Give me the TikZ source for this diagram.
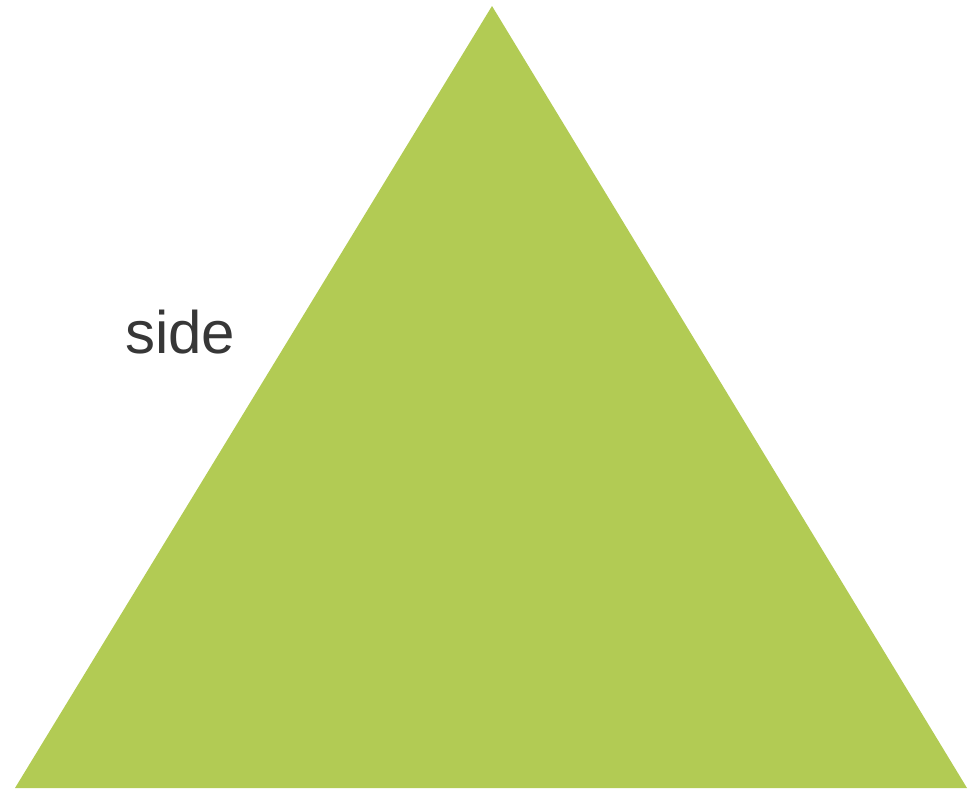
\documentclass[tikz,border=0pt]{standalone}
\usepackage{fontspec}
\setmainfont{Liberation Sans}
\usepackage{tikz}
\usetikzlibrary{positioning}

\definecolor{leafgreen}{RGB}{178,203,84}
\definecolor{labelgray}{RGB}{55,55,55}

\begin{document}
\begin{tikzpicture}[x=0.75pt, y=-0.75pt,
  face/.style={fill=leafgreen, draw=none},
  sidelabel/.style={font=\fontsize{45}{54}\selectfont, text=labelgray, anchor=base west, inner sep=0pt}]
  \useasboundingbox (0,0) rectangle (969,790);

  % Corners of the triangle
  \coordinate (apex) at (492,6);
  \coordinate (left) at (15,788);
  \coordinate (right) at (967,788);

  % Triangle face
  \fill[face] (apex) -- (right) -- (left) -- cycle;

  % Label
  \node[sidelabel] (side) at (125,353) {side};
\end{tikzpicture}
\end{document}
